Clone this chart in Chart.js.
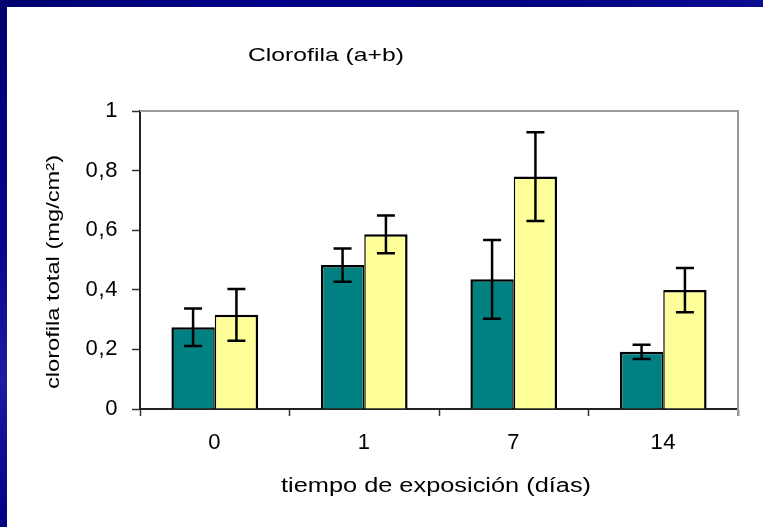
<!DOCTYPE html>
<html>
<head>
<meta charset="utf-8">
<title>Clorofila (a+b)</title>
<script src="https://cdn.jsdelivr.net/npm/chart.js@4/dist/chart.umd.min.js"></script>
<style>
  html, body { margin: 0; padding: 0; background: #fff; }
  #wrap { position: relative; width: 763px; height: 527px; overflow: hidden; background: #fff; }
  #grafico { position: absolute; left: 0; top: 0; }
  .marco-sup { position: absolute; left: 0; top: 0; width: 763px; height: 7px;
    background: linear-gradient(90deg, #000070 0%, #00008a 35%, #000080 65%, #0c0c92 100%); }
  .marco-izq { position: absolute; left: 0; top: 0; width: 7px; height: 527px;
    background: linear-gradient(180deg, #000070 0%, #06068a 45%, #1c1ca4 72%, #000080 100%); }
</style>
</head>
<body>
<div id="wrap">
  <canvas id="grafico" width="763" height="527"></canvas>
  <div class="marco-sup"></div>
  <div class="marco-izq"></div>
</div>
<script>
// Días de exposición (categorías del eje x)
const dias = ['0', '1', '7', '14'];

// Clorofila total (mg/cm²), dos tratamientos
const serieVerde = [0.274, 0.483, 0.435, 0.192];
const serieAmarilla = [0.316, 0.586, 0.780, 0.399];

// Error (±) de cada barra
const errorVerde = [0.063, 0.056, 0.132, 0.024];
const errorAmarilla = [0.087, 0.063, 0.149, 0.074];

// Marcas del eje y
const marcasY = [0, 0.2, 0.4, 0.6, 0.8, 1];
const etiquetasY = ['0', '0,2', '0,4', '0,6', '0,8', '1'];

const FUENTE = "'Liberation Sans', Arial, sans-serif";

// Espaciado de letras para las etiquetas que dibuja la librería
const espaciado = {
  id: 'espaciado',
  beforeDraw(chart) {
    chart.ctx.letterSpacing = '0.6px';
  }
};

// Bordes superior y derecho del área de trazado (gris)
const bordeArea = {
  id: 'bordeArea',
  beforeDatasetsDraw(chart) {
    const { ctx, chartArea: a } = chart;
    ctx.save();
    ctx.strokeStyle = '#9a9a9a';
    ctx.lineWidth = 2;
    ctx.beginPath();
    ctx.moveTo(a.left, a.top);
    ctx.lineTo(a.right, a.top);
    ctx.lineTo(a.right, a.bottom + 7);
    ctx.stroke();
    ctx.restore();
  }
};

// Barras de error a partir de los datos y la escala y
const barrasError = {
  id: 'barrasError',
  afterDatasetsDraw(chart) {
    const { ctx } = chart;
    const y = chart.scales.y;
    const errores = [errorVerde, errorAmarilla];
    ctx.save();
    ctx.strokeStyle = '#000';
    ctx.lineWidth = 2.5;
    chart.data.datasets.forEach((ds, i) => {
      const meta = chart.getDatasetMeta(i);
      meta.data.forEach((barra, j) => {
        const v = ds.data[j];
        const e = errores[i][j];
        const yAlto = y.getPixelForValue(v + e);
        const yBajo = y.getPixelForValue(v - e);
        const x = barra.x;
        const m = 9;
        ctx.beginPath();
        ctx.moveTo(x, yAlto); ctx.lineTo(x, yBajo);
        ctx.moveTo(x - m, yAlto); ctx.lineTo(x + m, yAlto);
        ctx.moveTo(x - m, yBajo); ctx.lineTo(x + m, yBajo);
        ctx.stroke();
      });
    });
    ctx.restore();
  }
};

// Texto ensanchado horizontalmente, centrado en (cx, cy)
function textoAncho(ctx, texto, cx, cy, tam, ancho, giro) {
  ctx.save();
  ctx.translate(cx, cy);
  if (giro) ctx.rotate(giro);
  ctx.scale(ancho, 1);
  ctx.font = tam + 'px ' + FUENTE;
  ctx.fillStyle = '#000';
  ctx.textAlign = 'center';
  ctx.textBaseline = 'middle';
  ctx.letterSpacing = '0px';
  ctx.fillText(texto, 0, 0);
  ctx.restore();
}

// Título del gráfico y títulos de los ejes
const titulos = {
  id: 'titulos',
  afterDraw(chart) {
    const { ctx, chartArea: a } = chart;
    textoAncho(ctx, 'Clorofila (a+b)', a.left + 186, 56, 18.6, 1.33, 0);
    textoAncho(ctx, 'tiempo de exposición (días)', (a.left + a.right) / 2 - 3, 487, 19.5, 1.3, 0);
    textoAncho(ctx, 'clorofila total (mg/cm²)', 54, (a.top + a.bottom) / 2 + 12, 18.5, 1.28, -Math.PI / 2);
  }
};

new Chart(document.getElementById('grafico'), {
  type: 'bar',
  data: {
    labels: dias,
    datasets: [
      {
        label: 'verde',
        data: serieVerde,
        backgroundColor: '#008080',
        borderColor: '#000',
        borderWidth: { top: 2.5, left: 2.5, right: 1.5, bottom: 0 },
        borderSkipped: false
      },
      {
        label: 'amarilla',
        data: serieAmarilla,
        backgroundColor: '#ffff99',
        borderColor: '#000',
        borderWidth: { top: 2.5, left: 1.5, right: 2.5, bottom: 0 },
        borderSkipped: false
      }
    ]
  },
  options: {
    responsive: false,
    animation: false,
    devicePixelRatio: 1,
    datasets: { bar: { categoryPercentage: 0.58, barPercentage: 1 } },
    layout: { padding: { top: 111, right: 25, left: 0, bottom: 0 } },
    plugins: {
      legend: { display: false },
      tooltip: { enabled: false },
      title: { display: false }
    },
    scales: {
      x: {
        offset: true,
        grid: {
          display: true,
          drawOnChartArea: false,
          drawTicks: true,
          tickLength: 7,
          tickColor: '#333',
          tickWidth: 1.5,
          offset: true
        },
        border: { display: true, color: '#222', width: 2 },
        ticks: {
          color: '#000',
          font: { family: FUENTE, size: 22 },
          padding: 14,
          maxRotation: 0
        },
        afterFit(scale) { scale.height = 118; }
      },
      y: {
        min: 0,
        max: 1,
        afterBuildTicks(scale) {
          scale.ticks = marcasY.map(v => ({ value: v }));
        },
        grid: {
          display: true,
          drawOnChartArea: false,
          drawTicks: true,
          tickLength: 8,
          tickColor: '#333',
          tickWidth: 1.5
        },
        border: { display: true, color: '#222', width: 2 },
        ticks: {
          color: '#000',
          font: { family: FUENTE, size: 22 },
          padding: 14,
          callback(value) {
            const i = marcasY.indexOf(value);
            return i >= 0 ? etiquetasY[i] : '';
          }
        },
        afterFit(scale) { scale.width = 140; }
      }
    }
  },
  plugins: [espaciado, bordeArea, barrasError, titulos]
});
</script>
</body>
</html>
